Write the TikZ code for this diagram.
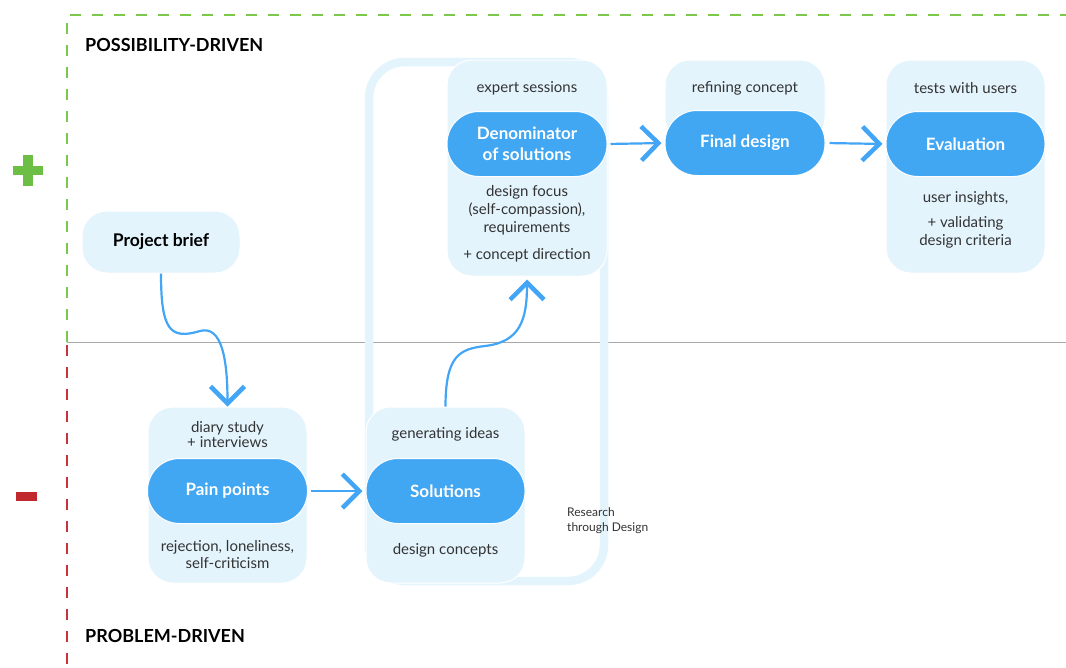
\documentclass[tikz,border=0pt]{standalone}
\usepackage{fontspec}
\setmainfont{Lato}
\usetikzlibrary{arrows.meta}
\definecolor{pale}{HTML}{E3F4FD}
\definecolor{pillblue}{HTML}{42A7F2}
\definecolor{arrowblue}{HTML}{42A5F5}
\definecolor{dashgreen}{HTML}{7CC84A}
\definecolor{plusgreen}{HTML}{6DBE45}
\definecolor{dashred}{HTML}{C8323A}
\definecolor{minusred}{HTML}{C0282D}
\definecolor{txt}{HTML}{333333}
\definecolor{axisgray}{HTML}{A8A8A8}
\tikzset{
  container/.style={fill=pale, draw=white, line width=1pt, rounded corners=25pt, inner sep=0pt},
  pillnode/.style={fill=pillblue, draw=white, line width=1pt, rounded corners=32pt, minimum width=160pt, minimum height=65pt, text=white, font=\fontsize{17}{20}\selectfont\bfseries, align=center, inner sep=0pt},
  small/.style={text=txt, font=\fontsize{15}{18}\selectfont, align=center, inner sep=0pt},
  heading/.style={text=black, font=\fontsize{18}{20}\selectfont\bfseries, anchor=west, inner sep=0pt},
  arr/.style={draw=arrowblue, line width=2.2pt, -{Straight Barb[length=17pt,width=34pt,line width=4.5pt]}},
}
\begin{document}
\begin{tikzpicture}[x=1pt,y=-1pt]
\useasboundingbox (0,0) rectangle (1066,667);
% quadrant lines
\draw[dashgreen, line width=1.3pt, dash pattern=on 11pt off 11pt] (67,342) -- (67,15) -- (1066,15);
\draw[dashred, line width=1.3pt, dash pattern=on 11pt off 11pt] (67,345) -- (67,667);
\draw[axisgray, line width=1pt] (67,342) -- (1066,342);
% plus and minus
\fill[plusgreen] (13,166) rectangle (43,175);
\fill[plusgreen] (23,155) rectangle (33,186);
\fill[minusred] (16,492) rectangle (37,501);
% headings
\node[heading] (poss) at (85,45) {POSSIBILITY-DRIVEN};
\node[heading] (prob) at (85,636) {PROBLEM-DRIVEN};
% research through design loop
\draw[pale, line width=8.5pt, rounded corners=36pt] (369,62) rectangle (604,581);
\node[text=txt, font=\fontsize{12}{15}\selectfont, align=left, anchor=west, inner sep=0pt] (rtd) at (567,521) {Research\\through Design};
% containers
\node[container, minimum width=158pt, minimum height=62pt, font=\fontsize{17.5}{20}\selectfont\bfseries, text=black] (brief) at (161,242) {Project brief};
\node[container, minimum width=159pt, minimum height=176pt] (painbox) at (227.5,495) {};
\node[container, minimum width=159pt, minimum height=176pt] (solbox) at (445.5,495) {};
\node[container, minimum width=160pt, minimum height=216pt] (denbox) at (527,168) {};
\node[container, minimum width=160pt, minimum height=83pt] (finbox) at (745,101.5) {};
\node[container, minimum width=159pt, minimum height=213pt] (evabox) at (965.5,166.5) {};
% pills
\node[pillnode] (painpill) at (227.5,491) {Pain points};
\node[pillnode, minimum width=159pt] (solpill) at (445.5,491) {Solutions};
\node[pillnode, font=\fontsize{17}{20.5}\selectfont\bfseries] (denpill) at (527,144) {Denominator\\of solutions};
\node[pillnode] (finpill) at (745,143) {Final design};
\node[pillnode, minimum width=159pt] (evapill) at (965.5,144) {Evaluation};
% small texts
\node[small, font=\fontsize{15}{15.5}\selectfont] (paintop) at (227.5,434.5) {diary study\\+ interviews};
\node[small, font=\fontsize{15}{17}\selectfont] (painbot) at (227.5,555) {rejection, loneliness,\\self-criticism};
\node[small] (soltop) at (445.5,434) {generating ideas};
\node[small] (solbot) at (445.5,550) {design concepts};
\node[small] (dentop) at (527,88) {expert sessions};
\node[small] (denbot) at (527,210) {design focus\\(self-compassion),\\requirements};
\node[small] (denbot2) at (527,255) {+ concept direction};
\node[small] (fintop) at (745,88) {refining concept};
\node[small] (evatop) at (965.5,88) {tests with users};
\node[small] (evabot) at (965.5,198) {user insights,};
\node[small] (evabot2) at (965.5,232) {+ validating\\design criteria};
% arrows
\draw[arr, shorten <=3pt, shorten >=3pt] (painpill.east) -- (solpill.west);
\draw[arr, shorten <=3pt, shorten >=3pt] (denpill.east) -- (finpill.west);
\draw[arr, shorten <=4pt, shorten >=3pt] (finpill.east) -- (evapill.west);
\draw[arr] (brief.south) .. controls (161,330) and (170,340) .. (200,331) .. controls (222,325) and (227.5,360) .. (painbox.north);
\draw[arr, shorten >=3pt] (solbox.north) .. controls (445.5,355) and (460,349) .. (485,346) .. controls (520,342) and (527,320) .. (denbox.south);
\end{tikzpicture}
\end{document}
